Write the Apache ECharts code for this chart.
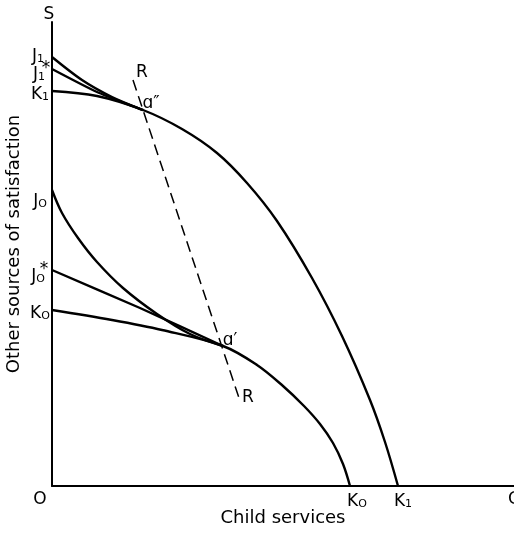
<!DOCTYPE html>
<html><head><meta charset="utf-8">
<script src="https://cdn.jsdelivr.net/npm/echarts@6/dist/echarts.min.js"></script>
<style>html,body{margin:0;padding:0;background:#fff}#c{width:514px;height:533px}</style>
</head><body><div id="c"></div>
<script>
// Production possibility frontiers (child services x, other satisfaction y)
var frontierK1 = [[0,395],[45,390],[91,376],[130,357],[165,333],[195,303],[225,265],[260,208],[290,150],[318,86],[333,44],[346,0]];
var frontierK0 = [[0,176],[60,166],[110,156],[171,140],[205,121],[231,100],[252,80],[268,62],[281,43],[291,22],[298,0]];
// Indifference curves and price lines
var curveJ1 = [[0,429],[30,406],[60,389],[91,376]];
var lineJ1star = [[0,417],[45,394],[91,376]];
var curveJ0 = [[0,296],[10,273],[26,248],[45,224],[71,198],[105,172],[138,152],[171,140]];
var lineJ0star = [[0,216],[88,178],[171,140]];
// Dashed R-R line
var lineRR = [[81,406],[187,88]];
// Annotation texts
var labelsText = ['S','{m|J}{s|1}','{m|J}{s|1}','*','{m|K}{s|1}','R','\u0251\u2033','{m|J}{s|O}','{m|J}{s|O}','*','{m|K}{s|O}','\u0251\u2032','R','O','{m|K}{s|O}','{m|K}{s|1}','C'];
var labelsAt = [[-3,471],[-14,431],[-13,413],[-6,417],[-12,393],[90,413],[99,382],[-12,286],[-14,211],[-8,216],[-12,174],[178,145],[196,88],[-12,-14],[305,-14],[351,-14],[462,-14]];
var xTitle = 'Child services';
var yTitle = 'Other sources of satisfaction';

var chart = echarts.init(document.getElementById('c'));
var font = 'DejaVu Sans';
function curve(d, smooth){
  return {type:'line', data:d, smooth:smooth, symbol:'none', clip:false,
    lineStyle:{color:'#000', width:2.4}, z:3};
}
var lblData = labelsAt.map(function(p,i){ return [p[0], p[1], i]; });
chart.setOption({
  animation:false,
  grid:{left:52, top:22, right:0, bottom:47},
  xAxis:{type:'value', min:0, max:462, name:xTitle, nameLocation:'middle', nameGap:23,
    nameTextStyle:{fontFamily:font, fontSize:18, color:'#000'},
    axisLine:{show:true, lineStyle:{color:'#000', width:2}}, axisTick:{show:false},
    axisLabel:{show:false}, splitLine:{show:false}},
  yAxis:{type:'value', min:0, max:464,
    axisLine:{show:true, lineStyle:{color:'#000', width:2}}, axisTick:{show:false},
    axisLabel:{show:false}, splitLine:{show:false}},
  graphic:[{type:'text', x:14, y:244, rotation:Math.PI/2,
    style:{text:yTitle, fontFamily:font, fontSize:18, fill:'#000', align:'center', verticalAlign:'middle'}}],
  series:[
    curve(frontierK1, 0.35),
    curve(frontierK0, 0.35),
    curve(curveJ1, 0.3),
    curve(lineJ1star, 0.2),
    curve(curveJ0, 0.35),
    curve(lineJ0star, 0.2),
    {type:'line', data:lineRR, symbol:'none', clip:false,
      lineStyle:{color:'#000', width:1.5, type:[11,6]}},
    {type:'custom', data:lblData, clip:false, z:5, silent:true,
      renderItem:function(params, api){
        var pt = api.coord([api.value(0), api.value(1)]);
        var t = labelsText[api.value(2)];
        return {type:'text', x:pt[0], y:pt[1],
          style:{text:t, fontFamily:font, fontSize:17, fill:'#000', align:'center', verticalAlign:'middle',
            rich:{m:{fontFamily:font, fontSize:17, fill:'#000', lineHeight:20, verticalAlign:'bottom'},
                  s:{fontFamily:font, fontSize:11, fill:'#000', lineHeight:20, verticalAlign:'bottom', padding:[7,0,0,0]}}}};
      }}
  ]
});
</script></body></html>
